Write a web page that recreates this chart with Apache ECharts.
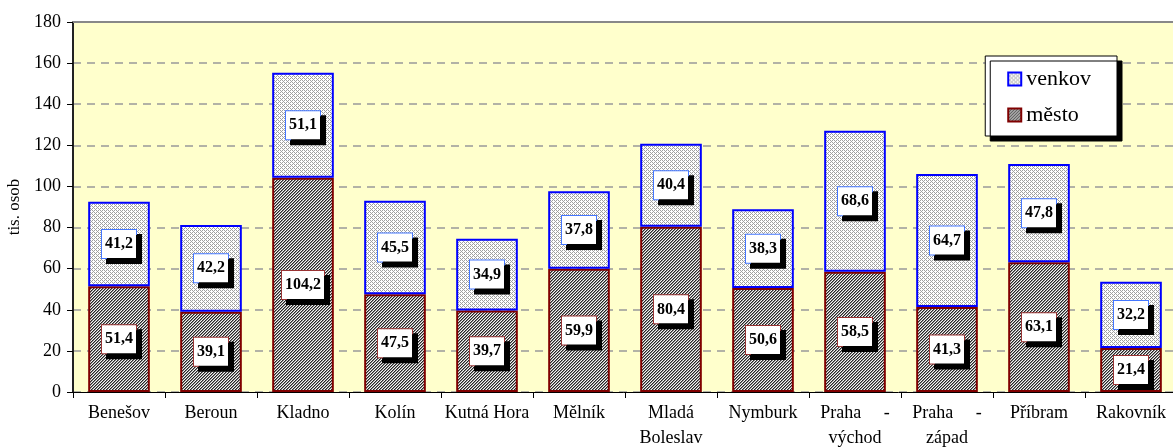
<!DOCTYPE html>
<html>
<head>
<meta charset="utf-8">
<script src="https://cdn.jsdelivr.net/npm/echarts@6/dist/echarts.min.js"></script>
<style>
    html, body { margin: 0; padding: 0; background: #fff; }
    #chart { width: 1173px; height: 448px; }
</style>
</head>
<body>
<div id="chart"></div>
<script>
    // okresy Středočeského kraje
    var categories = ['Benešov', 'Beroun', 'Kladno', 'Kolín', 'Kutná Hora', 'Mělník', 'Mladá\nBoleslav', 'Nymburk', 'Praha     -\nvýchod', 'Praha     -\nzápad', 'Příbram', 'Rakovník']
    var mesto = [51.4, 39.1, 104.2, 47.5, 39.7, 59.9, 80.4, 50.6, 58.5, 41.3, 63.1, 21.4]
    var venkov = [41.2, 42.2, 51.1, 45.5, 34.9, 37.8, 40.4, 38.3, 68.6, 64.7, 47.8, 32.2]
    var yTicks = [0, 20, 40, 60, 80, 100, 120, 140, 160, 180]

    var serif = '"Liberation Serif", "DejaVu Serif", serif'

    // vzorky výplně
    function hatch() {
        var c = document.createElement('canvas')
        c.width = 3; c.height = 3
        var ctx = c.getContext('2d')
        var cols = ['#262626', '#8a8a8a', '#f4f4f4']
        for (var y = 0; y < 3; y++) {
            for (var x = 0; x < 3; x++) {
                ctx.fillStyle = cols[(x + y) % 3]
                ctx.fillRect(x, y, 1, 1)
            }
        }
        return c
    }
    function cross() {
        var c = document.createElement('canvas')
        c.width = 4; c.height = 4
        var ctx = c.getContext('2d')
        ctx.fillStyle = '#ffffff'
        ctx.fillRect(0, 0, 4, 4)
        ctx.fillStyle = '#a0a0a0'
        for (var y = 0; y < 4; y++) {
            for (var x = 0; x < 4; x++) {
                if ((x + y) % 4 === 0 || (x - y + 4) % 4 === 2) ctx.fillRect(x, y, 1, 1)
            }
        }
        return c
    }

    function fmt(p) {
        return p.value.toFixed(1).replace('.', ',')
    }

    function labelStyle(border) {
        return {
            show: true,
            position: 'inside',
            formatter: fmt,
            fontFamily: serif,
            fontSize: 16,
            fontWeight: 'bold',
            color: '#000',
            backgroundColor: '#fff',
            borderColor: border,
            borderWidth: 1,
            padding: [7, 3, 5, 3],
            shadowColor: '#000',
            shadowBlur: 0,
            shadowOffsetX: 5,
            shadowOffsetY: 5
        }
    }

    var myChart = echarts.init(document.getElementById('chart'))
    var option = {
        backgroundColor: '#fff',
        animation: false,
        grid: {
            left: 73,
            right: -4,
            top: 22,
            bottom: 56,
            outerBoundsMode: 'none',
            containLabel: false,
            show: true,
            backgroundColor: '#FFFFCC',
            borderWidth: 0
        },
        legend: {
            orient: 'vertical',
            right: 56,
            top: 56,
            icon: 'rect',
            itemWidth: 13,
            itemHeight: 13,
            itemGap: 14,
            padding: [12, 26, 10, 22],
            backgroundColor: '#fff',
            borderColor: '#000',
            borderWidth: 1,
            shadowColor: '#000',
            shadowBlur: 0,
            shadowOffsetX: 5,
            shadowOffsetY: 5,
            textStyle: { fontFamily: serif, fontSize: 22, color: '#000' },
            data: ['venkov', 'město']
        },
        xAxis: [
            {
                type: 'category',
                data: categories,
                axisLine: { lineStyle: { color: '#000', width: 1 } },
                axisTick: { show: true, alignWithLabel: false, length: 6, lineStyle: { color: '#000' } },
                axisLabel: { fontFamily: serif, fontSize: 18, color: '#000', margin: 9, lineHeight: 25, interval: 0 }
            },
            {
                type: 'category',
                position: 'top',
                data: categories,
                axisLine: { lineStyle: { color: '#888', width: 2 } },
                axisTick: { show: false },
                axisLabel: { show: false }
            }
        ],
        yAxis: {
            type: 'value',
            min: 0,
            max: 180,
            interval: 20,
            name: 'tis. osob',
            nameLocation: 'middle',
            nameGap: 46,
            nameTextStyle: { fontFamily: serif, fontSize: 17, color: '#000' },
            axisLine: { show: true, lineStyle: { color: '#222', width: 2 } },
            axisTick: { show: true, length: 6, lineStyle: { color: '#000' } },
            axisLabel: {
                fontFamily: serif, fontSize: 18, color: '#000', margin: 12,
                formatter: function (v) { return yTicks.indexOf(v) >= 0 ? String(v) : '' }
            },
            splitLine: {
                show: true,
                lineStyle: {
                    color: '#999',
                    type: [8, 6],
                    width: 1.5
                }
            }
        },
        series: [
            {
                name: 'město',
                type: 'bar',
                stack: 'total',
                barWidth: '67%',
                data: mesto,
                itemStyle: {
                    color: { image: hatch(), repeat: 'repeat' },
                    borderColor: '#800000',
                    borderWidth: 2
                },
                label: labelStyle('#993333')
            },
            {
                name: 'venkov',
                type: 'bar',
                stack: 'total',
                barWidth: '67%',
                data: venkov,
                itemStyle: {
                    color: { image: cross(), repeat: 'repeat' },
                    borderColor: '#0000FF',
                    borderWidth: 2
                },
                label: labelStyle('#4477FF')
            }
        ]
    }
    myChart.setOption(option)
</script>
</body>
</html>
